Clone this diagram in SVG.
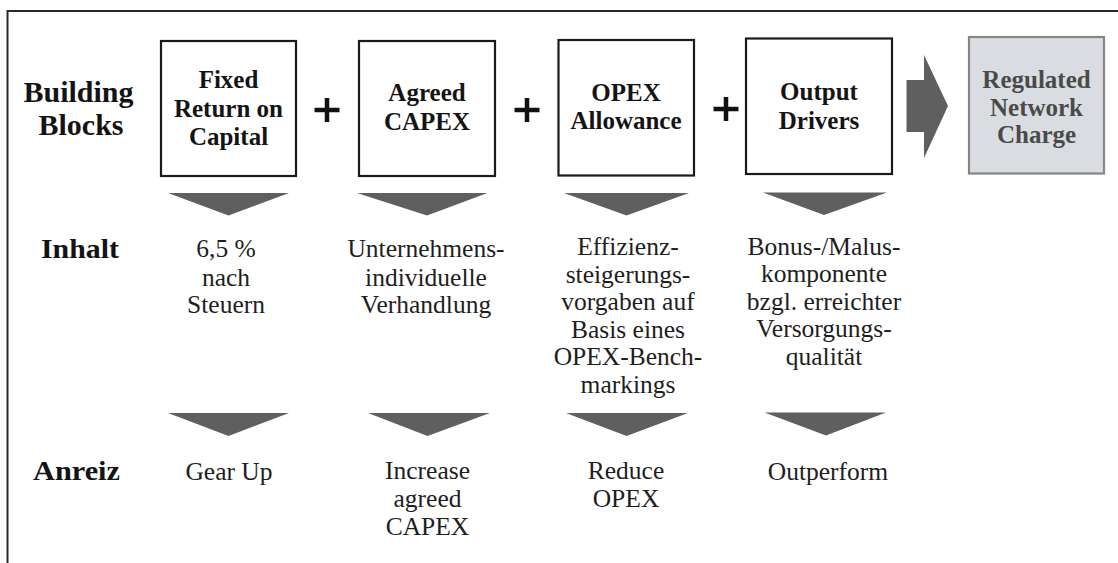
<svg xmlns="http://www.w3.org/2000/svg" width="1118" height="563" viewBox="0 0 1118 563">
<style>
.bg{fill:#ffffff}
.frame{fill:none;stroke:#2a2a2a;stroke-width:2}
.box{fill:#ffffff;stroke:#1a1a1a;stroke-width:2.2}
.rbox{fill:#d9dde2;stroke:#858585;stroke-width:2.2}
.bt{font-family:"Liberation Serif","Times New Roman",serif;font-weight:bold;font-size:25px;fill:#141414;text-anchor:middle}
.rt{font-family:"Liberation Serif","Times New Roman",serif;font-weight:bold;font-size:25px;fill:#4a4a4a;text-anchor:middle}
.lab{font-family:"Liberation Serif","Times New Roman",serif;font-weight:bold;font-size:30px;fill:#141414;text-anchor:middle}
.lab2{font-family:"Liberation Serif","Times New Roman",serif;font-weight:bold;font-size:27px;fill:#141414}
.tx{font-family:"Liberation Serif","Times New Roman",serif;font-size:25.5px;fill:#1e1e1e;text-anchor:middle}
.tri{fill:#5f5f5f}
.plus{stroke:#111111;stroke-width:4.5;fill:none}
</style>
<rect class="bg" x="0" y="0" width="1118" height="563"/>
<path class="frame" d="M7.5,563 L7.5,11 L1118,11"/>

<g id="label-building-blocks">
<text class="lab" x="78.5" y="101.5">Building</text>
<text class="lab" x="81" y="135">Blocks</text>
</g>
<g id="label-inhalt"><text class="lab2" x="41" y="258" textLength="78" lengthAdjust="spacingAndGlyphs">Inhalt</text></g>
<g id="label-anreiz"><text class="lab2" x="33" y="479.5" textLength="87" lengthAdjust="spacingAndGlyphs">Anreiz</text></g>

<g id="node-fixed-return">
<rect class="box" x="161" y="41" width="135" height="135"/>
<text class="bt" x="228.5" y="88">Fixed</text>
<text class="bt" x="228.5" y="116.5">Return on</text>
<text class="bt" x="228.5" y="145">Capital</text>
</g>
<g id="node-agreed-capex">
<rect class="box" x="359" y="41" width="136" height="135"/>
<text class="bt" x="427" y="101">Agreed</text>
<text class="bt" x="427" y="130">CAPEX</text>
</g>
<g id="node-opex-allowance">
<rect class="box" x="558.5" y="40" width="135.5" height="135.5"/>
<text class="bt" x="626" y="100.5">OPEX</text>
<text class="bt" x="626" y="129">Allowance</text>
</g>
<g id="node-output-drivers">
<rect class="box" x="746" y="38.5" width="146" height="135.5"/>
<text class="bt" x="819" y="100">Output</text>
<text class="bt" x="819" y="128.5">Drivers</text>
</g>
<g id="node-regulated-network-charge">
<rect class="rbox" x="969" y="37" width="135" height="136.5"/>
<text class="rt" x="1036.5" y="88">Regulated</text>
<text class="rt" x="1036.5" y="115.5">Network</text>
<text class="rt" x="1036.5" y="142.5">Charge</text>
</g>

<g id="operators">
<path class="plus" d="M314.5,110 H339.5 M327,98 V122"/>
<path class="plus" d="M514.5,110 H539.5 M527,98 V122"/>
<path class="plus" d="M713.5,109 H738.5 M726,97 V121"/>
</g>

<g id="connectors">
<path class="tri" d="M906.5,80 L924,80 L924,55 L948,106 L924,158 L924,132 L906.5,132 Z"/>
<polygon class="tri" points="168,193 289,193 228.5,215.5"/>
<polygon class="tri" points="357,193 487.5,193 427,215.5"/>
<polygon class="tri" points="564,193 689,193 626.5,215.5"/>
<polygon class="tri" points="763,192.5 887,192.5 824,215"/>
<polygon class="tri" points="168,413 289,413 228.5,436"/>
<polygon class="tri" points="368,413 490,413 427.5,436"/>
<polygon class="tri" points="566,413 688,413 626.5,436"/>
<polygon class="tri" points="764.5,412.5 886,412.5 826,435.5"/>
</g>

<g id="content-fixed-return">
<text class="tx" x="226" y="257">6,5 %</text>
<text class="tx" x="226" y="285.5">nach</text>
<text class="tx" x="226" y="313">Steuern</text>
</g>
<g id="content-agreed-capex">
<text class="tx" x="426" y="257">Unternehmens-</text>
<text class="tx" x="426" y="285.5">individuelle</text>
<text class="tx" x="426" y="313">Verhandlung</text>
</g>
<g id="content-opex-allowance">
<text class="tx" x="628" y="255">Effizienz-</text>
<text class="tx" x="628" y="282.5">steigerungs-</text>
<text class="tx" x="628" y="310">vorgaben auf</text>
<text class="tx" x="628" y="337.5">Basis eines</text>
<text class="tx" x="628" y="365">OPEX-Bench-</text>
<text class="tx" x="628" y="392.5">markings</text>
</g>
<g id="content-output-drivers">
<text class="tx" x="824" y="255">Bonus-/Malus-</text>
<text class="tx" x="824" y="282">komponente</text>
<text class="tx" x="824" y="309.5">bzgl. erreichter</text>
<text class="tx" x="824" y="337">Versorgungs-</text>
<text class="tx" x="824" y="364.5">qualität</text>
</g>

<g id="incentive-fixed-return"><text class="tx" x="229" y="479.5">Gear Up</text></g>
<g id="incentive-agreed-capex">
<text class="tx" x="427.5" y="479">Increase</text>
<text class="tx" x="427.5" y="507">agreed</text>
<text class="tx" x="427.5" y="535">CAPEX</text>
</g>
<g id="incentive-opex-allowance">
<text class="tx" x="626" y="479">Reduce</text>
<text class="tx" x="626" y="507">OPEX</text>
</g>
<g id="incentive-output-drivers"><text class="tx" x="828" y="479.5">Outperform</text></g>
</svg>
